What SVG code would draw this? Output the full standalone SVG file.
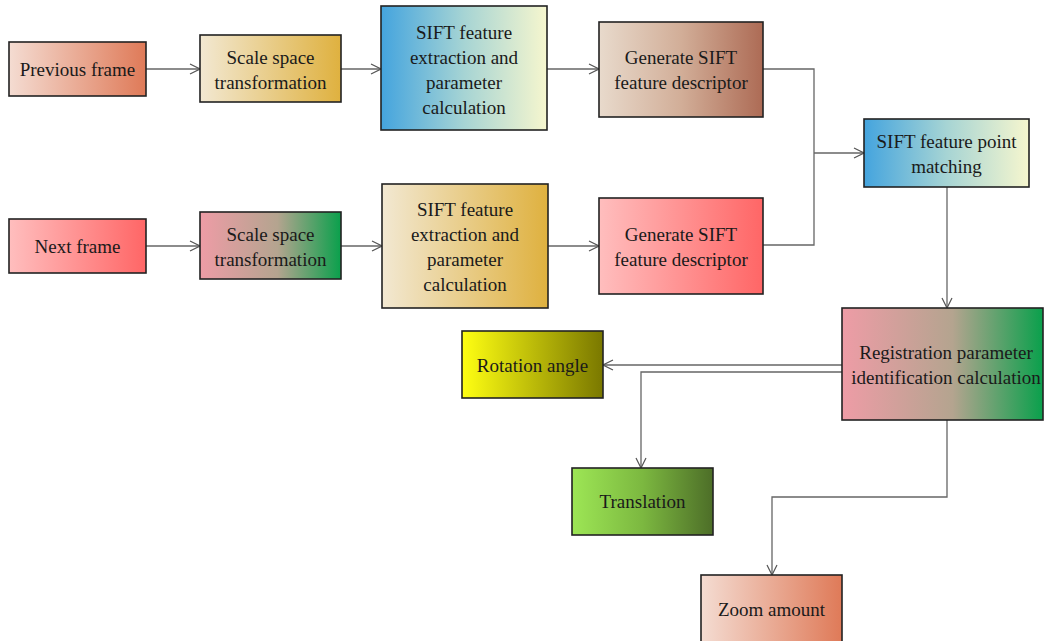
<svg xmlns="http://www.w3.org/2000/svg" width="1044" height="641" viewBox="0 0 1044 641">
<defs>
<linearGradient id="gOrange" x1="0" x2="1" y1="0" y2="0"><stop offset="0" stop-color="#f4dcd2"/><stop offset="1" stop-color="#df7a58"/></linearGradient>
<linearGradient id="gGold" x1="0" x2="1" y1="0" y2="0"><stop offset="0" stop-color="#f2e8d2"/><stop offset="1" stop-color="#dfb13f"/></linearGradient>
<linearGradient id="gBlue" x1="0" x2="1" y1="0" y2="0"><stop offset="0" stop-color="#44a4de"/><stop offset="0.5" stop-color="#a6d4d4"/><stop offset="1" stop-color="#f6f6ce"/></linearGradient>
<linearGradient id="gBrown" x1="0" x2="1" y1="0" y2="0"><stop offset="0" stop-color="#e8dacc"/><stop offset="0.5" stop-color="#d2ae98"/><stop offset="1" stop-color="#ad6b55"/></linearGradient>
<linearGradient id="gRed" x1="0" x2="1" y1="0" y2="0"><stop offset="0" stop-color="#ffbebe"/><stop offset="1" stop-color="#ff6666"/></linearGradient>
<linearGradient id="gPinkGreen" x1="0" x2="1" y1="0" y2="0"><stop offset="0" stop-color="#ee9ca6"/><stop offset="0.55" stop-color="#b4a48f"/><stop offset="1" stop-color="#0aa04c"/></linearGradient>
<linearGradient id="gYellow" x1="0" x2="1" y1="0" y2="0"><stop offset="0" stop-color="#ffff12"/><stop offset="1" stop-color="#7a7800"/></linearGradient>
<linearGradient id="gGreen" x1="0" x2="1" y1="0" y2="0"><stop offset="0" stop-color="#9de655"/><stop offset="0.5" stop-color="#7cb840"/><stop offset="1" stop-color="#4d6e28"/></linearGradient>
<marker id="arr" viewBox="0 0 12 12" refX="11" refY="6" markerWidth="12" markerHeight="12" markerUnits="userSpaceOnUse" orient="auto">
<path d="M1,1 L11,6 L1,11" fill="none" stroke="#555" stroke-width="1.2"/>
</marker>
<style>
.box{stroke:#222;stroke-width:1.6}
text{font-family:'Liberation Serif','Times New Roman','DejaVu Serif',serif;font-size:19px;fill:#1a1a1a;text-anchor:middle}
.c{fill:none;stroke:#666;stroke-width:1.3}
</style>
</defs>
<rect width="1044" height="641" fill="#fff"/>
<g id="connectors">
<path class="c" d="M146,69 H200" marker-end="url(#arr)"/>
<path class="c" d="M341,69 H381" marker-end="url(#arr)"/>
<path class="c" d="M547,69 H599" marker-end="url(#arr)"/>
<path class="c" d="M146,246 H200" marker-end="url(#arr)"/>
<path class="c" d="M341,246 H382" marker-end="url(#arr)"/>
<path class="c" d="M548,246 H599" marker-end="url(#arr)"/>
<path class="c" d="M763,69 H814 V245 H763"/>
<path class="c" d="M814,153 H864" marker-end="url(#arr)"/>
<path class="c" d="M947,187 V308" marker-end="url(#arr)"/>
<path class="c" d="M842,365 H603" marker-end="url(#arr)"/>
<path class="c" d="M842,372 H641 V468" marker-end="url(#arr)"/>
<path class="c" d="M947,420 V497 H772 V575" marker-end="url(#arr)"/>
</g>
<g id="prev"><rect class="box" x="9" y="42" width="137" height="54" fill="url(#gOrange)"/><text font-family="Liberation Serif, serif" x="77.5" y="75.5">Previous frame</text></g>
<g id="ss1"><rect class="box" x="200" y="35" width="141" height="67" fill="url(#gGold)"/><text x="270.5" y="63.5">Scale space</text><text x="270.5" y="88.5">transformation</text></g>
<g id="ext1"><rect class="box" x="381" y="6" width="166" height="124" fill="url(#gBlue)"/><text x="464" y="38.5">SIFT feature</text><text x="464" y="63.5">extraction and</text><text x="464" y="88.5">parameter</text><text x="464" y="113.5">calculation</text></g>
<g id="gen1"><rect class="box" x="599" y="22" width="164" height="95" fill="url(#gBrown)"/><text x="681" y="63.5">Generate SIFT</text><text x="681" y="88.5">feature descriptor</text></g>
<g id="match"><rect class="box" x="864" y="119" width="165" height="68" fill="url(#gBlue)"/><text x="946.5" y="147.5">SIFT feature point</text><text x="946.5" y="172.5">matching</text></g>
<g id="next"><rect class="box" x="9" y="219" width="137" height="54" fill="url(#gRed)"/><text x="77.5" y="252.5">Next frame</text></g>
<g id="ss2"><rect class="box" x="200" y="212" width="141" height="67" fill="url(#gPinkGreen)"/><text x="270.5" y="240.5">Scale space</text><text x="270.5" y="265.5">transformation</text></g>
<g id="ext2"><rect class="box" x="382" y="184" width="166" height="124" fill="url(#gGold)"/><text x="465" y="215.5">SIFT feature</text><text x="465" y="240.5">extraction and</text><text x="465" y="265.5">parameter</text><text x="465" y="290.5">calculation</text></g>
<g id="gen2"><rect class="box" x="599" y="198" width="164" height="96" fill="url(#gRed)"/><text x="681" y="240.5">Generate SIFT</text><text x="681" y="265.5">feature descriptor</text></g>
<g id="reg"><rect class="box" x="842" y="308" width="201" height="112" fill="url(#gPinkGreen)"/><text x="946" y="358.5">Registration parameter</text><text x="946" y="383.5">identification calculation</text></g>
<g id="rot"><rect class="box" x="462" y="331" width="141" height="67" fill="url(#gYellow)"/><text x="532.5" y="371.5">Rotation angle</text></g>
<g id="trans"><rect class="box" x="572" y="468" width="141" height="67" fill="url(#gGreen)"/><text x="642.5" y="508">Translation</text></g>
<g id="zoom"><rect class="box" x="701" y="575" width="141" height="72" fill="url(#gOrange)"/><text x="771.5" y="615.5">Zoom amount</text></g>
</svg>
